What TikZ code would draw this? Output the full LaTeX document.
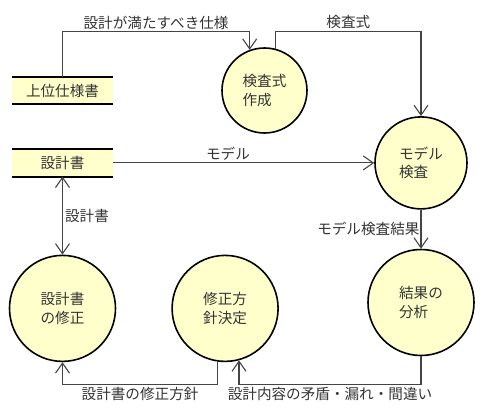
\documentclass[tikz,border=0pt]{standalone}
\usepackage{fontspec}
\setmainfont{Noto Sans CJK JP}
\usetikzlibrary{positioning,arrows.meta,calc}
\definecolor{paleyel}{HTML}{FFFFCC}
\definecolor{ink}{HTML}{333333}
\definecolor{wire}{HTML}{444444}

\begin{document}
\begin{tikzpicture}[
  >={Straight Barb[length=10pt,width=14pt]},
  txt/.style={text=ink, font=\fontsize{14.6}{18.5}\selectfont},
  proc/.style={circle, draw=black, line width=1.6pt, fill=paleyel, inner sep=0pt, align=left, txt},
  storeline/.style={draw=black, line width=2pt, -},
  store/.style={fill=paleyel, minimum width=101pt, minimum height=27pt, inner sep=0pt, txt,
    append after command={(\tikzlastnode.north west) edge[storeline] (\tikzlastnode.north east)
      (\tikzlastnode.south west) edge[storeline] (\tikzlastnode.south east)}},
  lbl/.style={txt, inner sep=2pt},
  arr/.style={->, draw=wire, line width=1.1pt}
]
  \useasboundingbox (0,0) rectangle (485pt,-415pt);

  % stores
  \node[store] (spec) at (62.5pt,-90.5pt) {上位仕様書};
  \node[store, below=45pt of spec] (design) {設計書};

  % processes
  \node[proc, minimum size=85pt, right=108pt of spec] (mkchk) {検査式\\作成};
  \node[proc, minimum size=92pt, right=261pt of design] (mc) {モデル\\検査};
  \node[proc, minimum size=106pt, below=39pt of mc] (ana) {結果の\\分析};
  \node[proc, minimum size=106pt, below=78pt of design] (fix) {設計書\\の修正};
  \node[proc, minimum size=106pt, right=55pt of fix] (plan) {修正方\\針決定};

  % flows
  \draw[arr] (spec.north) |- node[lbl, above, pos=0.75] {設計が満たすべき仕様}
        ($(mkchk.110)+(0,18pt)$) -- (mkchk.110);
  \draw[arr] (mkchk.75) -- ++(0,17pt) -| node[lbl, above, pos=0.25] {検査式} (mc.north);
  \draw[arr] (design.east) -- node[lbl, above, pos=0.44] {モデル} (mc.west);
  \draw[arr, <->] (design.south) -- node[lbl, right] {設計書} (fix.north);
  \draw[arr] (mc.south) -- node[lbl, left, inner sep=1pt] {モデル検査結果} (ana.north);
  \draw[arr] (ana.south) |- node[lbl, below, pos=0.75] {設計内容の矛盾・漏れ・間違い}
        ($(plan.-75)+(0,-24pt)$) -- (plan.-75);
  \draw[arr] (plan.-98) |- node[lbl, below, pos=0.75] {設計書の修正方針}
        ($(fix.south)+(0,-22pt)$) -- (fix.south);
\end{tikzpicture}
\end{document}
